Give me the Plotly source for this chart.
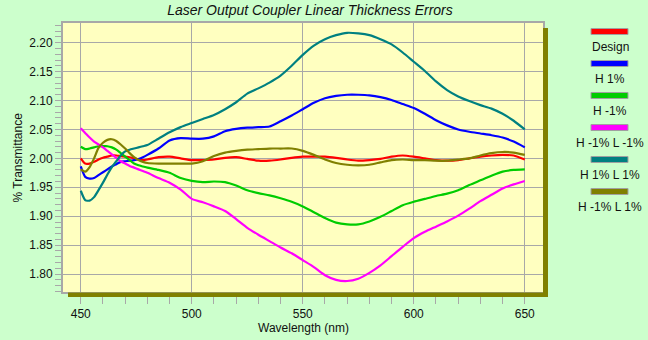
import plotly.graph_objects as go

# ---------------- data ----------------
wavelength = [450, 452, 454, 456, 458, 460, 462, 464, 466, 468, 470, 472, 474, 476, 478, 480,
              485, 490, 495, 500, 505, 510, 515, 520, 525, 530, 535, 540, 545, 550, 555, 560,
              565, 570, 575, 580, 585, 590, 595, 600, 605, 610, 615, 620, 625, 630, 635, 640,
              645, 650]

design = [2.000, 1.991, 1.991, 1.994, 1.998, 2.001, 2.003, 2.005, 2.005, 2.004, 2.003, 2.002,
          2.000, 1.998, 1.997, 1.998, 2.002, 2.003, 2.000, 1.997, 1.997, 1.998, 2.001, 2.002,
          1.999, 1.996, 1.996, 1.998, 2.001, 2.003, 2.003, 2.003, 2.001, 1.998, 1.996, 1.997,
          1.999, 2.003, 2.005, 2.003, 2.000, 1.997, 1.996, 1.997, 2.000, 2.003, 2.005, 2.006,
          2.005, 1.998]

h_p1 = [1.986, 1.968, 1.965, 1.966, 1.971, 1.976, 1.981, 1.986, 1.990, 1.994, 1.995, 1.996,
        1.997, 1.999, 2.002, 2.006, 2.017, 2.031, 2.035, 2.034, 2.034, 2.038, 2.047, 2.051,
        2.053, 2.054, 2.055, 2.064, 2.074, 2.085, 2.096, 2.104, 2.108, 2.110, 2.110, 2.109,
        2.106, 2.101, 2.094, 2.087, 2.077, 2.066, 2.057, 2.050, 2.046, 2.043, 2.040, 2.036,
        2.029, 2.019]

h_m1 = [2.020, 2.016, 2.017, 2.019, 2.021, 2.021, 2.021, 2.019, 2.015, 2.009, 2.003, 1.997,
        1.991, 1.988, 1.986, 1.984, 1.980, 1.975, 1.966, 1.961, 1.959, 1.960, 1.959, 1.953,
        1.945, 1.940, 1.936, 1.931, 1.925, 1.917, 1.907, 1.897, 1.889, 1.886, 1.886, 1.891,
        1.899, 1.909, 1.919, 1.925, 1.930, 1.935, 1.939, 1.945, 1.954, 1.962, 1.970, 1.977,
        1.980, 1.981]

h_m1_l_m1 = [2.052, 2.044, 2.036, 2.029, 2.024, 2.019, 2.013, 2.007, 2.001, 1.995, 1.991, 1.987,
             1.984, 1.981, 1.978, 1.975, 1.966, 1.958, 1.946, 1.930, 1.924, 1.917, 1.909, 1.895,
             1.880, 1.868, 1.857, 1.846, 1.836, 1.824, 1.812, 1.798, 1.790, 1.788, 1.792, 1.802,
             1.815, 1.831, 1.847, 1.862, 1.873, 1.882, 1.891, 1.901, 1.913, 1.926, 1.937, 1.948,
             1.955, 1.961]

h_p1_l_p1 = [1.944, 1.928, 1.927, 1.933, 1.945, 1.958, 1.972, 1.985, 1.995, 2.005, 2.012, 2.015,
             2.017, 2.019, 2.021, 2.023, 2.034, 2.045, 2.054, 2.061, 2.068, 2.075, 2.085, 2.097,
             2.112, 2.121, 2.131, 2.143, 2.160, 2.179, 2.195, 2.206, 2.213, 2.217, 2.216, 2.213,
             2.206, 2.197, 2.183, 2.167, 2.151, 2.133, 2.118, 2.107, 2.099, 2.092, 2.086, 2.077,
             2.065, 2.050]

h_m1_l_p1 = [1.981, 1.977, 1.985, 2.000, 2.018, 2.027, 2.032, 2.033, 2.030, 2.024, 2.017, 2.009,
             2.002, 1.997, 1.994, 1.992, 1.991, 1.991, 1.991, 1.991, 1.995, 2.004, 2.010, 2.013,
             2.015, 2.016, 2.017, 2.017, 2.017, 2.013, 2.006, 1.998, 1.992, 1.989, 1.988, 1.989,
             1.993, 1.997, 1.998, 1.997, 1.997, 1.996, 1.996, 1.998, 2.000, 2.005, 2.009, 2.011,
             2.010, 2.006]

series_names = ["Design", "H 1%", "H -1%", "H -1% L -1%", "H 1% L 1%", "H -1% L 1%"]
series_values = [design, h_p1, h_m1, h_m1_l_m1, h_p1_l_p1, h_m1_l_p1]
series_colors = ["#FF0000", "#0000FF", "#00CC00", "#FF00FF", "#008080", "#808000"]

x_ticks = [450, 500, 550, 600, 650]
y_ticks = [1.80, 1.85, 1.90, 1.95, 2.00, 2.05, 2.10, 2.15, 2.20]

# ---------------- layout geometry (pixels) ----------------
W, H = 648, 340
ML, MR, MT, MB = 63, 105, 23, 48
PW, PH = W - ML - MR, H - MT - MB
FONT = "Liberation Sans, Arial, sans-serif"
TXT = "#111111"
GRID = "#A8A8A8"


def px_x(px):
    return (px - ML) / PW


def px_y(py):
    return (H - MB - py) / PH


fig = go.Figure()
for name, vals, col in zip(series_names, series_values, series_colors):
    fig.add_trace(go.Scatter(x=wavelength, y=vals, name=name, mode="lines",
                             line=dict(color=col, width=2.2, shape="spline", smoothing=0.6),
                             showlegend=False))

shapes = []
# drop shadow of plot area (right and bottom strips)
shapes.append(dict(type="rect", xref="paper", yref="paper",
                   x0=px_x(543), x1=px_x(548), y0=px_y(297), y1=px_y(28),
                   fillcolor="#808000", line=dict(width=0), layer="above"))
shapes.append(dict(type="rect", xref="paper", yref="paper",
                   x0=px_x(68), x1=px_x(548), y0=px_y(297), y1=px_y(292.5),
                   fillcolor="#808000", line=dict(width=0), layer="above"))

annotations = []
# custom legend: swatch above label
for i, (name, col) in enumerate(zip(series_names, series_colors)):
    sy = 31.5 + 32 * i
    shapes.append(dict(type="rect", xref="paper", yref="paper",
                       x0=px_x(591), x1=px_x(628), y0=px_y(sy + 3), y1=px_y(sy - 3),
                       fillcolor=col, line=dict(color="#A0A0A0", width=1), layer="above"))
    annotations.append(dict(text=name, xref="paper", yref="paper",
                            x=px_x(610), y=px_y(sy + 15.5), xanchor="center", yanchor="middle",
                            showarrow=False, font=dict(family=FONT, size=12, color=TXT)))

annotations.append(dict(text="% Transmittance", xref="paper", yref="paper",
                        x=px_x(17), y=0.5, textangle=-90, xanchor="center", yanchor="middle",
                        showarrow=False, font=dict(family=FONT, size=12, color=TXT)))
annotations.append(dict(text="Wavelength (nm)", xref="paper", yref="paper",
                        x=px_x(303), y=px_y(328), xanchor="center", yanchor="middle",
                        showarrow=False, font=dict(family=FONT, size=12, color=TXT)))

fig.update_layout(
    width=W, height=H,
    margin=dict(l=ML, r=MR, t=MT, b=MB),
    paper_bgcolor="#CCFFCC",
    plot_bgcolor="#FFFFC0",
    title=dict(text="<i>Laser Output Coupler Linear Thickness Errors</i>",
               x=310 / W, xanchor="center", y=1 - 10 / H, yanchor="middle",
               yref="container", font=dict(family=FONT, size=14, color=TXT)),
    font=dict(family=FONT, size=12, color=TXT),
    shapes=shapes,
    annotations=annotations,
    showlegend=False,
)

fig.update_xaxes(
    range=[442.0, 658.2], tickmode="array", tickvals=x_ticks,
    ticks="outside", ticklen=10, tickcolor=GRID, tickwidth=1,
    showgrid=True, gridcolor=GRID, gridwidth=1,
    showline=True, linecolor=GRID, linewidth=2, mirror=True,
    zeroline=False,
    minor=dict(dtick=10, tick0=450, ticks="outside", ticklen=10, tickcolor=GRID, showgrid=False),
    tickfont=dict(family=FONT, size=12, color=TXT),
)
fig.update_yaxes(
    range=[1.769, 2.234], tickmode="array", tickvals=y_ticks,
    ticktext=[f"{v:.2f}" for v in y_ticks],
    ticks="outside", ticklen=6, tickcolor=GRID, tickwidth=1,
    showgrid=True, gridcolor=GRID, gridwidth=1,
    showline=True, linecolor=GRID, linewidth=2, mirror=True,
    zeroline=False,
    minor=dict(dtick=0.01, tick0=1.8, ticks="outside", ticklen=6, tickcolor=GRID, showgrid=False),
    tickfont=dict(family=FONT, size=12, color=TXT),
)

fig.write_html("out.html")
